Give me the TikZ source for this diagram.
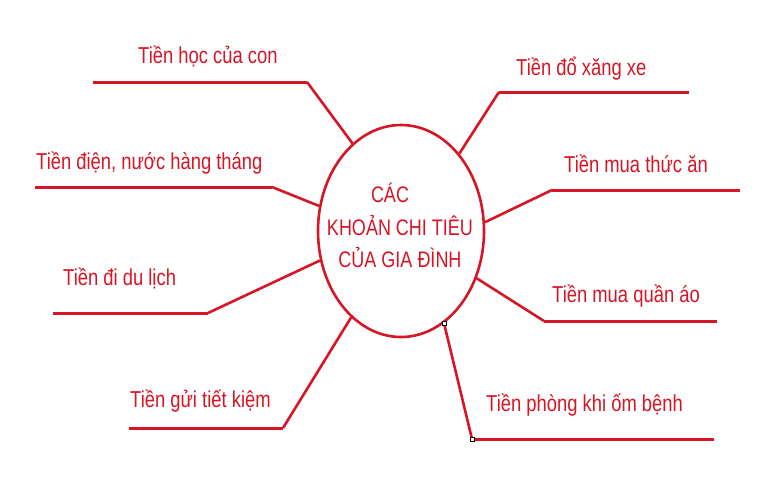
\documentclass[tikz,border=0pt]{standalone}
\usepackage{fontspec}
\setmainfont{Liberation Sans}
\newfontfamily\lbfont[FakeStretch=0.8]{Liberation Sans}
\usetikzlibrary{shapes.geometric}
\definecolor{rd}{RGB}{214,22,38}
\begin{document}
\begin{tikzpicture}[x=1pt,y=-1pt,
  lbl/.style={anchor=base west,inner sep=0pt,text=rd,font=\lbfont\fontsize{23}{25}\selectfont},
  ctr/.style={anchor=base,inner sep=0pt,text=rd,font=\lbfont\fontsize{22.5}{25}\selectfont},
  hline/.style={draw=rd,line width=3pt},
  dline/.style={draw=rd,line width=2.6pt,line join=round},
  handle/.style={draw=black,fill=white,line width=0.4pt,minimum size=4pt,inner sep=0pt,rectangle}]
\useasboundingbox (0,0) rectangle (768,480);
\fill[white] (0,0) rectangle (768,480);
\node[ellipse,draw=rd,line width=2.6pt,minimum width=166pt,minimum height=212pt,inner sep=0pt] (c) at (401,231) {};
\node[ctr] (t1) at (390,202) {CÁC};
\node[ctr] (t2) at (400,235) {KHOẢN CHI TIÊU};
\node[ctr] (t3) at (400,267) {CỦA GIA ĐÌNH};
% labels
\node[lbl] (l1) at (138,63) {Tiền học của con};
\node[lbl] (l2) at (36,169) {Tiền điện, nước hàng tháng};
\node[lbl] (l3) at (516,75) {Tiền đổ xăng xe};
\node[lbl] (l4) at (564,172) {Tiền mua thức ăn};
\node[lbl] (l5) at (63,285) {Tiền đi du lịch};
\node[lbl] (l6) at (130,407) {Tiền gửi tiết kiệm};
\node[lbl] (l7) at (552,302) {Tiền mua quần áo};
\node[lbl] (l8) at (486,411) {Tiền phòng khi ốm bệnh};
% elbows and ends
\coordinate (e1) at (307,82);  \coordinate (f1) at (93,82);
\coordinate (e2) at (272,187); \coordinate (f2) at (35,187);
\coordinate (e3) at (499,92);  \coordinate (f3) at (689,92);
\coordinate (e4) at (552,190); \coordinate (f4) at (740,190);
\coordinate (e5) at (208,313); \coordinate (f5) at (53,313);
\coordinate (e6) at (283,428); \coordinate (f6) at (129,428);
\coordinate (e7) at (544,321); \coordinate (f7) at (717,321);
\coordinate (e8) at (472,439); \coordinate (f8) at (714,439);
% connectors
\draw[dline] (c.119) -- (e1); \draw[hline] (e1) -- (f1);
\draw[dline] (c.163) -- (e2); \draw[hline] (e2) -- (f2);
\draw[dline] (c.53) -- (e3);  \draw[hline] (e3) -- (f3);
\draw[dline] (c.6) -- (e4);   \draw[hline] (e4) -- (f4);
\draw[dline] (c.200) -- (e5); \draw[hline] (e5) -- (f5);
\draw[dline] (c.240) -- (e6); \draw[hline] (e6) -- (f6);
\draw[dline] (c.328) -- (e7); \draw[hline] (e7) -- (f7);
\draw[dline] (c.295) -- (e8); \draw[hline] (e8) -- (f8);
\node[handle] (h1) at (c.295) {};
\node[handle] (h2) at (e8) {};
\end{tikzpicture}
\end{document}
